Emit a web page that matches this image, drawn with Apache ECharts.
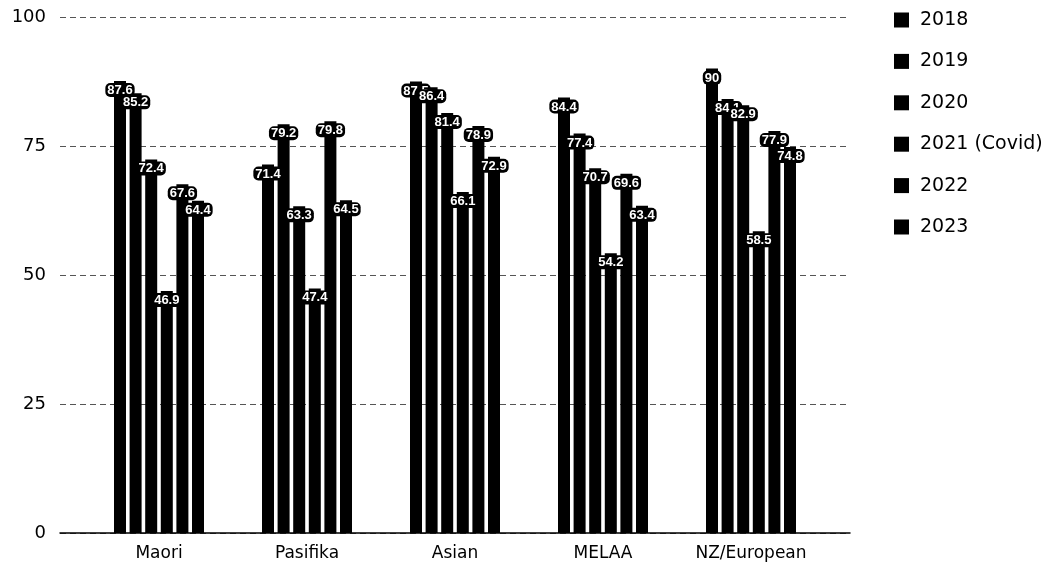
<!DOCTYPE html>
<html>
<head>
<meta charset="utf-8">
<script src="https://cdn.jsdelivr.net/npm/echarts@6/dist/echarts.min.js"></script>
<style>
  html, body { margin: 0; padding: 0; background: #fff; }
  #chart { width: 1058px; height: 571px; }
</style>
</head>
<body>
<div id="chart"></div>
<script>
// Ethnic groups along the x axis
const categories = ['Maori', 'Pasifika', 'Asian', 'MELAA', 'NZ/European'];

// One value per ethnic group for each year
const y2018 = [87.6, 71.4, 87.5, 84.4, 90];
const y2019 = [85.2, 79.2, 86.4, 77.4, 84.1];
const y2020 = [72.4, 63.3, 81.4, 70.7, 82.9];
const y2021 = [46.9, 47.4, 66.1, 54.2, 58.5];
const y2022 = [67.6, 79.8, 78.9, 69.6, 77.9];
const y2023 = [64.4, 64.5, 72.9, 63.4, 74.8];

const seriesNames = ['2018', '2019', '2020', '2021 (Covid)', '2022', '2023'];
const seriesValues = [y2018, y2019, y2020, y2021, y2022, y2023];

// Value axis ticks
const yTicks = [0, 25, 50, 75, 100];

const FONT = '"DejaVu Sans", "Liberation Sans", Arial, sans-serif';
const LABEL_FONT = '"Liberation Sans", Arial, sans-serif';
const chart = echarts.init(document.getElementById('chart'), null, { renderer: 'canvas' });

const bars = seriesNames.map((name, i) => ({
  name: name,
  type: 'bar',
  xAxisIndex: 1,
  yAxisIndex: 1,
  data: seriesValues[i],
  barWidth: 12,
  barGap: '30%',
  itemStyle: { color: '#000' },
  label: {
    show: true,
    position: 'insideTop',
    distance: 2,
    formatter: p => String(p.value),
    color: '#fff',
    fontFamily: LABEL_FONT,
    fontWeight: 'bold',
    fontSize: 13,
    backgroundColor: '#000',
    borderRadius: 5,
    padding: [1, 2, 0, 2]
  }
}));

chart.setOption({
  animation: false,
  backgroundColor: '#fff',
  grid: [
    { left: 60, right: 208, top: 17, bottom: 38 },
    { left: 85, right: 233, top: 17, bottom: 38 }
  ],
  legend: {
    orient: 'vertical',
    left: 889,
    top: 5,
    icon: 'rect',
    itemWidth: 15,
    itemHeight: 15,
    itemGap: 21.4,
    data: seriesNames,
    textStyle: {
      fontFamily: FONT, fontSize: 19, color: '#000',
      lineHeight: 20, padding: [0, 0, 0, 6]
    }
  },
  xAxis: [
    {
      gridIndex: 0, type: 'value', min: 0, max: 1,
      axisLine: { show: true, lineStyle: { color: '#000', width: 1.5 } },
      axisTick: { show: false }, axisLabel: { show: false }, splitLine: { show: false }
    },
    {
      gridIndex: 1, type: 'category', data: categories,
      axisLine: { show: false }, axisTick: { show: false },
      axisLabel: { fontFamily: FONT, fontSize: 17, color: '#000', margin: 12 }
    }
  ],
  yAxis: [
    {
      gridIndex: 0, type: 'value', min: yTicks[0], max: yTicks[yTicks.length - 1], interval: 25,
      axisLine: { show: false }, axisTick: { show: false },
      axisLabel: { fontFamily: FONT, fontSize: 18, color: '#000', margin: 14 },
      splitLine: { show: true, lineStyle: { color: '#555', width: 1, type: [6, 4] } }
    },
    {
      gridIndex: 1, type: 'value', min: 0, max: 100, show: false
    }
  ],
  series: bars
});
</script>
</body>
</html>
